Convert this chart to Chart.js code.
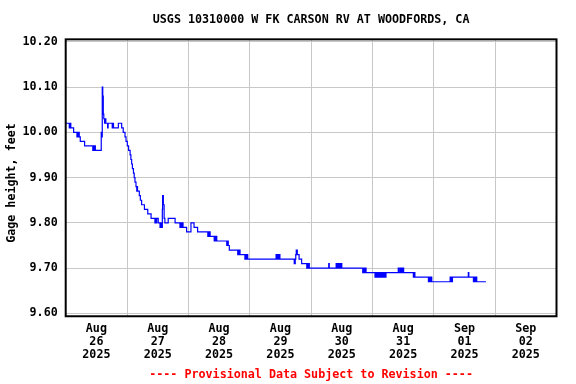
<!DOCTYPE html>
<html>
<head>
<meta charset="utf-8">
<script src="https://cdn.jsdelivr.net/npm/chart.js@4"></script>
<style>
  body { margin: 0; background: #fff; }
  canvas { display: block; }
</style>
</head>
<body>
<canvas id="gageChart" width="576" height="384"></canvas>
<script>
// hours since Aug 26 00:00, value holds until the next point
var hours = [
    0, 1.4, 1.75, 2.0, 3.1, 4.4, 4.6, 4.9, 5.1, 5.3, 5.7, 7.4,
    10.6, 10.8, 11.1, 11.3, 11.6, 13.9, 14.1, 14.3, 14.5, 14.7, 14.9, 15.2, 15.4, 15.7,
    16.4, 16.6, 18.2, 18.4, 18.7, 20.6, 21.9, 22.5, 23.2, 23.6, 24.1, 24.6,
    25.2, 25.5, 25.8, 26.1, 26.5, 26.8, 27.1, 27.5, 27.8, 27.9, 28.1, 28.8, 29.2, 29.7,
    30.8, 32.1, 33.4, 34.9, 35.1, 35.4, 35.6, 36.2, 36.9, 37.1, 37.3, 37.5, 37.7, 37.8,
    37.9, 38.2, 38.5, 38.8, 40.1, 42.8, 44.7, 45.0, 45.3, 45.6, 45.9, 46.4, 47.3, 49.0,
    50.2, 51.6, 55.6, 55.8, 56.1, 56.3, 56.5, 58.1, 58.4, 58.7, 58.9, 59.1,
    63.0, 63.3, 63.6, 64.0, 67.3, 67.5, 67.8, 68.0, 68.2, 70.1, 70.4, 70.7, 71.0, 71.2,
    82.3, 82.6, 82.9, 83.2, 83.5, 83.8, 89.4, 89.8, 90.0, 90.2, 90.6, 91.3, 92.3,
    94.3, 94.5, 94.8, 95.0, 95.3, 102.9, 103.1,
    105.8, 106.1, 106.4, 106.7, 107.0, 107.3, 107.6, 108.0,
    116.2, 116.5, 116.8, 117.1, 117.5,
    121.0, 121.4, 121.8, 122.2, 122.6, 123.0, 123.4, 123.8, 124.2, 124.6, 124.9, 125.3,
    130.1, 130.3, 130.8, 131.0, 131.4, 131.6, 132.0, 132.2,
    136.0, 136.4, 136.6, 141.9, 142.2, 142.5, 142.8, 143.2,
    150.4, 150.6, 150.9, 151.1, 151.3, 157.5, 157.7,
    159.5, 159.8, 160.1, 160.4, 160.8, 164.4
];
var gage = [
    10.02, 10.01, 10.02, 10.01, 10.00, 9.99, 10.00, 9.99, 10.00, 9.99, 9.98, 9.97,
    9.96, 9.97, 9.96, 9.97, 9.96, 10.00, 9.99, 10.10, 10.08, 10.04, 10.03, 10.02, 10.03, 10.02,
    10.01, 10.02, 10.01, 10.02, 10.01, 10.02, 10.01, 10.00, 9.99, 9.98, 9.97, 9.96,
    9.95, 9.94, 9.93, 9.92, 9.91, 9.90, 9.89, 9.88, 9.87, 9.88, 9.87, 9.86, 9.85, 9.84,
    9.83, 9.82, 9.81, 9.80, 9.81, 9.80, 9.81, 9.80, 9.79, 9.80, 9.79, 9.80, 9.79, 9.83,
    9.86, 9.84, 9.81, 9.80, 9.81, 9.80, 9.79, 9.80, 9.79, 9.80, 9.79, 9.79, 9.78, 9.80,
    9.79, 9.78, 9.77, 9.78, 9.77, 9.78, 9.77, 9.76, 9.77, 9.76, 9.77, 9.76,
    9.75, 9.76, 9.75, 9.74, 9.73, 9.74, 9.73, 9.74, 9.73, 9.72, 9.73, 9.72, 9.73, 9.72,
    9.73, 9.72, 9.73, 9.72, 9.73, 9.72, 9.71, 9.72, 9.73, 9.74, 9.73, 9.72, 9.71,
    9.70, 9.71, 9.70, 9.71, 9.70, 9.71, 9.70,
    9.71, 9.70, 9.71, 9.70, 9.71, 9.70, 9.71, 9.70,
    9.69, 9.70, 9.69, 9.70, 9.69,
    9.68, 9.69, 9.68, 9.69, 9.68, 9.69, 9.68, 9.69, 9.68, 9.69, 9.68, 9.69,
    9.70, 9.69, 9.70, 9.69, 9.70, 9.69, 9.70, 9.69,
    9.68, 9.69, 9.68, 9.67, 9.68, 9.67, 9.68, 9.67,
    9.68, 9.67, 9.68, 9.67, 9.68, 9.69, 9.68,
    9.67, 9.68, 9.67, 9.68, 9.67, 9.67
];

var yTicks = [9.60, 9.70, 9.80, 9.90, 10.00, 10.10, 10.20];
var xTickHours = [0, 12, 24, 36, 48, 60, 72, 84, 96, 108, 120, 132, 144, 156, 168, 180, 192];
var dayLabels = [
    ['Aug', '26', '2025'], ['Aug', '27', '2025'], ['Aug', '28', '2025'], ['Aug', '29', '2025'],
    ['Aug', '30', '2025'], ['Aug', '31', '2025'], ['Sep', '01', '2025'], ['Sep', '02', '2025']
];
var yTitle = 'Gage height, feet';

var monoFont = { family: '"DejaVu Sans Mono", monospace', size: 11.7, weight: 'bold' };

// khung đen quanh vùng vẽ + nhãn trục Y
var framePlugin = {
    id: 'frame',
    afterDatasetsDraw: function (chart) {
        var ca = chart.chartArea;
        var ctx = chart.ctx;
        ctx.save();
        ctx.strokeStyle = '#000';
        ctx.lineWidth = 2;
        ctx.strokeRect(ca.left, ca.top, ca.right - ca.left, ca.bottom - ca.top);
        ctx.restore();
    },
    afterDraw: function (chart) {
        var ctx = chart.ctx;
        ctx.save();
        ctx.translate(12, 183);
        ctx.rotate(-Math.PI / 2);
        ctx.font = 'bold 11.7px "DejaVu Sans Mono", monospace';
        ctx.fillStyle = '#000';
        ctx.textAlign = 'center';
        ctx.textBaseline = 'middle';
        ctx.fillText(yTitle, 0, 0);
        ctx.restore();
    }
};

var points = hours.map(function (h, i) { return { x: h, y: gage[i] }; });

var ctx = document.getElementById('gageChart').getContext('2d');
var gageChart = new Chart(ctx, {
    type: 'line',
    data: {
        datasets: [{
            data: points,
            borderColor: '#0000ff',
            borderWidth: 1.2,
            pointRadius: 0,
            stepped: true,
            fill: false
        }]
    },
    options: {
        responsive: false,
        animation: false,
        layout: { padding: { left: 0, right: 19.5, top: 0, bottom: 0 } },
        scales: {
            x: {
                type: 'linear',
                min: 0,
                max: 192,
                afterBuildTicks: function (s) {
                    s.ticks = xTickHours.map(function (v) { return { value: v }; });
                },
                afterFit: function (s) { s.height = 51.9; },
                ticks: {
                    autoSkip: false,
                    maxRotation: 0,
                    padding: 6,
                    color: '#000',
                    font: { family: monoFont.family, size: 11.7, weight: 'bold', lineHeight: 1.12 },
                    callback: function (v) {
                        if (v % 24 === 12) return dayLabels[(v - 12) / 24];
                        return '';
                    }
                },
                grid: {
                    drawTicks: false,
                    lineWidth: 1,
                    color: function (c) {
                        return c.tick && c.tick.value % 24 === 0 ? '#c8c8c8' : 'rgba(0,0,0,0)';
                    }
                },
                border: { display: false }
            },
            y: {
                min: 9.5938,
                max: 10.2053,
                afterBuildTicks: function (s) {
                    s.ticks = yTicks.map(function (v) { return { value: v }; });
                },
                afterFit: function (s) { s.width = 65.7; },
                ticks: {
                    padding: 8,
                    color: '#000',
                    font: monoFont,
                    callback: function (v) { return v.toFixed(2); }
                },
                grid: { drawTicks: false, color: '#c8c8c8', lineWidth: 1 },
                border: { display: false }
            }
        },
        plugins: {
            legend: { display: false },
            tooltip: { enabled: false },
            title: {
                display: true,
                text: 'USGS 10310000 W FK CARSON RV AT WOODFORDS, CA',
                color: '#000',
                font: monoFont,
                fullSize: false,
                padding: { top: 12.5, bottom: 12.8 }
            },
            subtitle: {
                display: true,
                position: 'bottom',
                text: '---- Provisional Data Subject to Revision ----',
                color: '#ff0000',
                font: monoFont,
                fullSize: false,
                padding: { top: 0, bottom: 1.8 }
            }
        }
    },
    plugins: [framePlugin]
});
</script>
</body>
</html>
